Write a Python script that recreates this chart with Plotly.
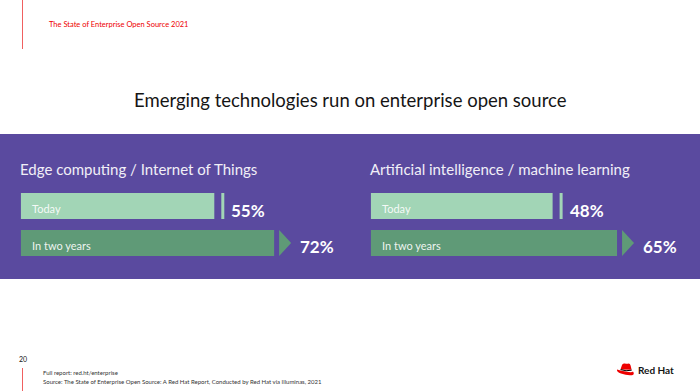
import plotly.graph_objects as go

# ---------------- data ----------------
rows = ["Today", "In two years"]
panel_titles = ["Edge computing / Internet of Things",
                "Artificial intelligence / machine learning"]
edge_iot = [55, 72]
ai_ml = [48, 65]
page_title = "Emerging technologies run on enterprise open source"
header_text = "The State of Enterprise Open Source 2021"
page_number = "20"
footer_lines = ["Full report: red.ht/enterprise",
                "Source: The State of Enterprise Open Source: A Red Hat Report, Conducted by Red Hat via Illuminas, 2021"]

# ---------------- style ----------------
W, H = 700, 391
FONT = "Lato"
PURPLE = "#5a4a9f"
LIGHT = "#a2d5b6"
DARK = "#5f9a77"
RED = "#ee0000"
COLORS = [LIGHT, DARK]


def px(x):
    return x / W


def py(y):
    return 1 - y / H


fig = go.Figure()
y_pos = [len(rows) - 1 - i for i in range(len(rows))]  # Today on top

panels = [(edge_iot, "x", "y", 20.7, 3.52), (ai_ml, "x2", "y2", 370.7, 3.79)]
shapes = []
annotations = []

# purple band
shapes.append(dict(type="rect", xref="paper", yref="paper", x0=0, x1=1,
                   y0=py(279), y1=py(134), fillcolor=PURPLE, line_width=0, layer="below"))

for k, (vals, xa, ya, x0px, scale) in enumerate(panels):
    fig.add_trace(go.Bar(x=vals, y=y_pos, orientation="h", width=0.703,
                         marker=dict(color=COLORS, line_width=0),
                         xaxis=xa, yaxis=ya, hoverinfo="skip", showlegend=False))
    # separator after "Today" bar
    shapes.append(dict(type="rect", xref=xa, yref=ya, xsizemode="pixel",
                       xanchor=vals[0], x0=7, x1=10,
                       y0=y_pos[0] - 0.3515, y1=y_pos[0] + 0.3515,
                       fillcolor=LIGHT, line_width=0))
    # arrow after "In two years" bar
    shapes.append(dict(type="path", xref=xa, yref=ya, xsizemode="pixel",
                       xanchor=vals[1],
                       path=f"M5,{y_pos[1]-0.3515} L17,{y_pos[1]} L5,{y_pos[1]+0.3515} Z",
                       fillcolor=DARK, line_width=0))
    # row labels inside bars
    for i, r in enumerate(rows):
        annotations.append(dict(x=0, y=y_pos[i], xref=xa, yref=ya, xanchor="left",
                                xshift=9, yshift=-2, text=r, showarrow=False,
                                font=dict(family=FONT, size=11, color="rgba(255,255,255,0.9)")))
    # value labels
    for i, v in enumerate(vals):
        annotations.append(dict(x=v, y=y_pos[i], xref=xa, yref=ya, xanchor="left",
                                xshift=15 if i == 0 else 24, yshift=-4 if i == 0 else -3,
                                text=f"<b>{v}%</b>", showarrow=False,
                                font=dict(family=FONT, size=17, color="white")))
    # panel title
    annotations.append(dict(x=px(x0px - 2.5), y=py(169), xref="paper", yref="paper",
                            xanchor="left", yanchor="middle", text=panel_titles[k],
                            showarrow=False,
                            font=dict(family=FONT, size=15, color="#f1eff7")))

# page title
annotations.append(dict(x=0.5, y=py(100), xref="paper", yref="paper", xanchor="center",
                        yanchor="middle", text=page_title, showarrow=False,
                        font=dict(family=FONT, size=18.5, color="#151515")))
# header
annotations.append(dict(x=px(47), y=py(25), xref="paper", yref="paper", xanchor="left",
                        yanchor="middle", text=header_text, showarrow=False,
                        font=dict(family=FONT, size=7.5, color=RED)))
shapes.append(dict(type="line", xref="paper", yref="paper", x0=px(22.5), x1=px(22.5),
                   y0=py(0), y1=py(49), line=dict(color="#f06060", width=1)))
# footer
annotations.append(dict(x=px(17), y=py(359), xref="paper", yref="paper", xanchor="left",
                        yanchor="middle", text=page_number, showarrow=False,
                        font=dict(family=FONT, size=7, color="#151515")))
shapes.append(dict(type="line", xref="paper", yref="paper", x0=px(22.5), x1=px(22.5),
                   y0=py(368), y1=py(391), line=dict(color="#f06060", width=1)))
for j, line in enumerate(footer_lines):
    annotations.append(dict(x=px(41), y=py(372 + 9 * j), xref="paper", yref="paper",
                            xanchor="left", yanchor="middle", text=line, showarrow=False,
                            font=dict(family=FONT, size=6, color="#333333")))

# Red Hat logo (hat drawn with paths) + wordmark
def P(x, y):
    return f"{px(x):.5f},{py(y):.5f}"

hat_crown = (f"M{P(620.5,369.5)} L{P(622,365)} Q{P(622.8,362.8)} {P(625,363.6)} "
             f"Q{P(627,364.2)} {P(628.8,363.4)} Q{P(630,363.4)} {P(630.6,365.5)} "
             f"L{P(631.6,369.8)} Z")
hat_brim = (f"M{P(617,369.5)} Q{P(616.5,372)} {P(621,373.5)} Q{P(627,375.8)} {P(632,375.2)} "
            f"Q{P(635,374.5)} {P(633,371.5)} Q{P(632,372.8)} {P(627,371.8)} "
            f"Q{P(621,370.6)} {P(617,369.5)} Z")
shapes.append(dict(type="path", xref="paper", yref="paper", path=hat_crown,
                   fillcolor=RED, line_width=0))
shapes.append(dict(type="path", xref="paper", yref="paper", path=hat_brim,
                   fillcolor=RED, line_width=0))
shapes.append(dict(type="path", xref="paper", yref="paper",
                   path=f"M{P(620.6,369.6)} Q{P(626,371.6)} {P(631.7,370.2)}",
                   line=dict(color="black", width=1)))
annotations.append(dict(x=px(635.5), y=py(370), xref="paper", yref="paper", xanchor="left",
                        yanchor="middle", text="<b>Red Hat</b>", showarrow=False,
                        font=dict(family=FONT, size=10, color="#151515")))

ax_common = dict(showgrid=False, zeroline=False, showticklabels=False, showline=False,
                 fixedrange=True)
fig.update_layout(
    width=W, height=H, margin=dict(l=0, r=0, t=0, b=0),
    paper_bgcolor="white", plot_bgcolor="rgba(0,0,0,0)",
    xaxis=dict(domain=[px(20.7), px(20.7 + 3.52 * 80)], range=[0, 80], **ax_common),
    yaxis=dict(domain=[py(261.5), py(187.5)], range=[-0.5, 1.5], anchor="x", **ax_common),
    xaxis2=dict(domain=[px(370.7), px(370.7 + 3.79 * 80)], range=[0, 80], anchor="y2", **ax_common),
    yaxis2=dict(domain=[py(261.5), py(187.5)], range=[-0.5, 1.5], anchor="x2", **ax_common),
    shapes=shapes, annotations=annotations, showlegend=False,
)

fig.write_html("out.html", config={"displayModeBar": False},
               post_script="document.body.style.margin='0';document.body.style.overflow='hidden';")
